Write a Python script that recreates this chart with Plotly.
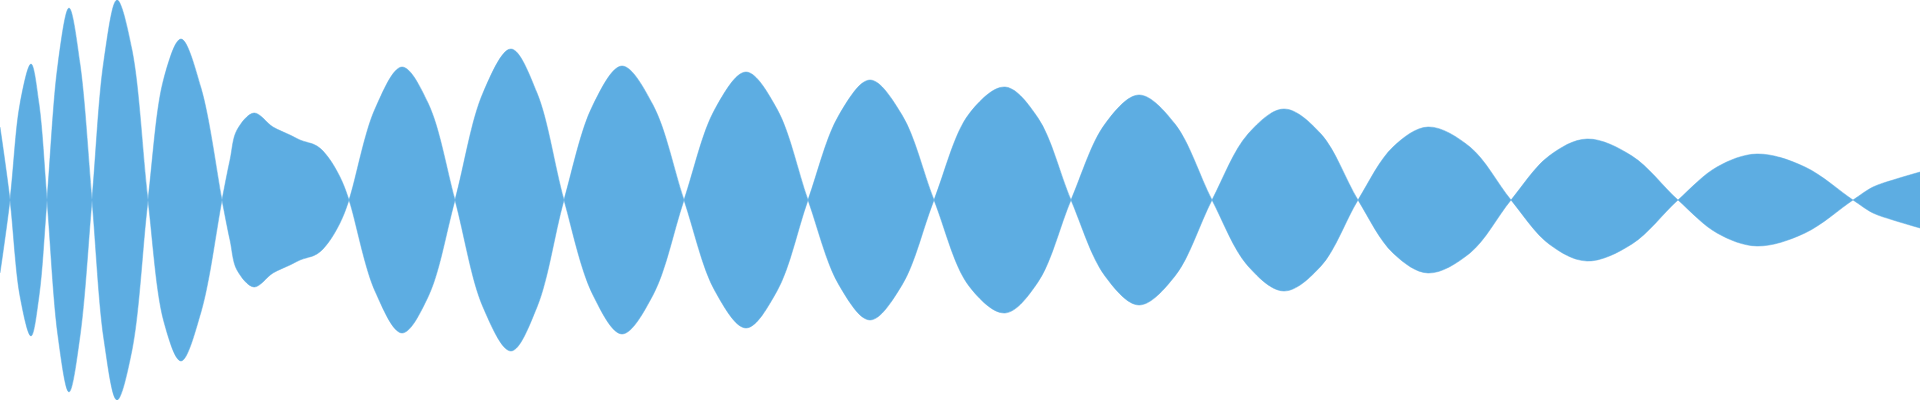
"""Mirrored waveform envelope drawn as a filled Plotly area."""

import plotly.graph_objects as go

# sample positions (x) and signed amplitude of the waveform
positions = [0, 10, 20, 31, 39, 47, 58, 69, 80, 92, 104, 117, 132, 148,
             164, 181, 201, 222, 230, 237, 254, 273, 290, 300, 317, 328, 340,
             349, 375, 402, 428, 455, 483, 511, 537, 564, 593, 622, 653, 684,
             715, 746, 777, 808, 839, 870, 902, 934, 969, 1005, 1038, 1071,
             1105, 1139, 1175, 1212, 1248, 1284, 1321, 1358, 1393, 1428, 1470,
             1511, 1549, 1587, 1632, 1678, 1717, 1757, 1805, 1853, 1873, 1893,
             1920]
amplitude = [73, 0, -96, -136, -96, 0, 136, 192, 136, 0, -140, -200, -150, 0,
             122, 161, 112, 0, -40, -70, -87, -73, -65, -60, -54, -43, -23,
             0, 91, 133, 97, 0, -107, -151, -107, 0, 95, 134, 95, 0,
             -91, -128, -91, 0, 85, 120, 85, 0, -86, -113, -82, 0,
             76, 105, 76, 0, -66, -91, -66, 0, 53, 73, 53,
             0, -44, -61, -44, 0, 33, 46, 33, 0, -13, -20,
             -28]

WAVE_COLOR = "#5dade2"

mirrored = [-a for a in amplitude]

fig = go.Figure()
fig.add_trace(go.Scatter(
    x=positions, y=amplitude, mode="lines",
    line=dict(color=WAVE_COLOR, width=0.5, shape="spline", smoothing=1),
    hoverinfo="skip", showlegend=False,
))
fig.add_trace(go.Scatter(
    x=positions, y=mirrored, mode="lines",
    line=dict(color=WAVE_COLOR, width=0.5, shape="spline", smoothing=1),
    fill="tonexty", fillcolor=WAVE_COLOR,
    hoverinfo="skip", showlegend=False,
))
fig.update_layout(
    xaxis=dict(range=[0, 1920], visible=False, fixedrange=True),
    yaxis=dict(range=[-200, 200], visible=False, fixedrange=True),
    margin=dict(t=0, b=0, l=0, r=0),
    height=400,
    paper_bgcolor="#ffffff",
    plot_bgcolor="#ffffff",
)

# drop the default page margin so the chart fills the window edge to edge
fix_page = (
    "document.body.style.margin='0';"
    "document.body.style.overflow='hidden';"
    "Plotly.Plots.resize(document.getElementById('{plot_id}'));"
)
fig.write_html("out.html", config={"displayModeBar": False},
               post_script=fix_page)
